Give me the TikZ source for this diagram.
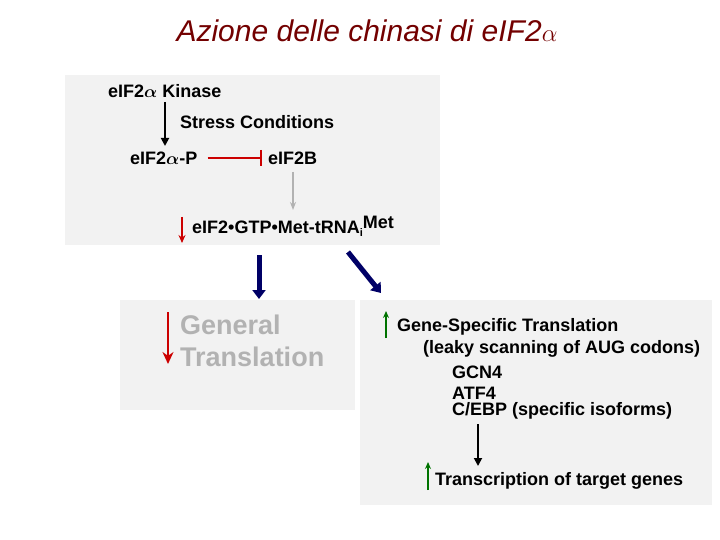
\documentclass[tikz,border=0pt]{standalone}
\usepackage{amsmath,bm}
\usepackage{fontspec}
\setmainfont{Liberation Sans}
\usetikzlibrary{arrows.meta}
\begin{document}
\begin{tikzpicture}[x=1pt,y=-1pt,
  txt/.style={font=\bfseries\fontsize{18}{20}\selectfont,anchor=west,inner sep=0},
  big/.style={font=\bfseries\fontsize{27}{29}\selectfont,text=gray!60,anchor=west,inner sep=0},
  panel/.style={fill=black!5,draw=none},
  blk/.style={-{Triangle[length=8pt,width=8pt]},line width=1.8pt},
  nav/.style={-{Triangle[length=9pt,width=13pt]},line width=5pt,draw=blue!40!black},
  up/.style={-{Stealth[length=7pt,width=6pt]},line width=1.2pt,draw=green!45!black}]
\useasboundingbox (0,0) rectangle (720,540);
\node[font=\itshape\fontsize{30}{32}\selectfont,text=red!45!black] (title) at (367,31) {Azione delle chinasi di eIF2$\alpha$};
\fill[panel] (65,75) rectangle (440,245);
\fill[panel] (120,300) rectangle (355,410);
\fill[panel] (360,300) rectangle (712,505);
\node[txt] (kin) at (108,91) {eIF2$\bm{\alpha}$ Kinase};
\node[txt] (stress) at (180,122) {Stress Conditions};
\node[txt] (p) at (130,158) {eIF2$\bm{\alpha}$-P};
\node[txt] (b) at (268,158) {eIF2B};
\node[txt] (gtp) at (192,226) {eIF2•GTP•Met-tRNA\raisebox{-3pt}{\fontsize{11}{12}\selectfont i}\raisebox{5pt}{Met}};
\coordinate (k1) at (165,102);
\draw[blk] (k1) -- (165,146);
\draw[red!80!black,line width=1.8pt,-{Bar[width=16pt]}] (p.east) ++(10,0) -- (262,158);
\coordinate (b1) at (293,172);
\draw[-{Stealth[length=8pt]},gray!60,line width=1.3pt] (b1) -- (293,210);
\coordinate (r1) at (182,217);
\draw[-{Stealth[length=8pt,width=7pt]},red!80!black,line width=1.4pt] (r1) -- (182,243);
\coordinate (n1) at (259,255);
\draw[nav] (n1) -- (259,299);
\coordinate (n2) at (348,252);
\draw[nav] (n2) -- (381,293);
\coordinate (r2) at (168,312);
\draw[-{Stealth[length=12pt,width=11pt]},red!80!black,line width=2pt] (r2) -- (168,364);
\node[big] (gen) at (180,325) {General};
\node[big] (tr) at (180,357) {Translation};
\coordinate (g1) at (386,338);
\draw[up] (g1) -- (386,311);
\node[txt] (gst) at (397,327) {Gene-Specific Translation};
\node[txt] (leak) at (423,349) {(leaky scanning of AUG codons)};
\node[txt] (gcn) at (452,372) {GCN4};
\node[txt] (atf) at (452,393) {ATF4};
\node[txt] (cebp) at (452,411) {C/EBP (specific isoforms)};
\coordinate (c1) at (478,424);
\draw[blk] (c1) -- (478,466);
\coordinate (g2) at (428,490);
\draw[up] (g2) -- (428,462);
\node[txt] (tg) at (435,481) {Transcription of target genes};
\end{tikzpicture}
\end{document}
